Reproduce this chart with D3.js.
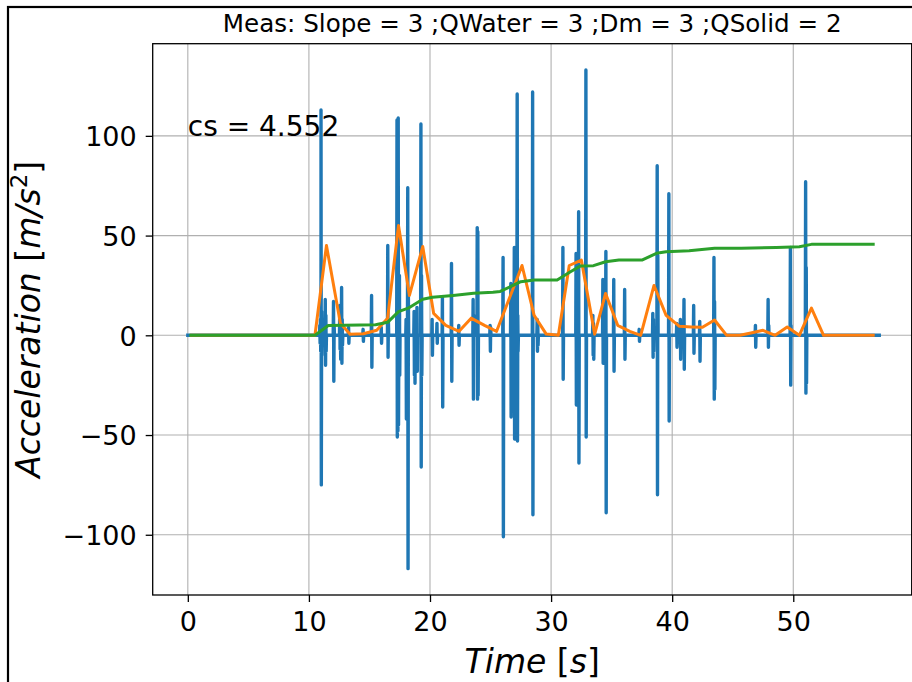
<!DOCTYPE html>
<html>
<head>
<meta charset="utf-8">
<script src="https://cdn.jsdelivr.net/npm/d3@7"></script>
<style>
  html, body { margin: 0; padding: 0; background: #fff; }
  svg { display: block; }
  text { font-family: "DejaVu Sans", sans-serif; fill: #000; }
</style>
</head>
<body>
<svg id="chart" width="912" height="682"></svg>
<script>
// ---------------- data ----------------
const titleText = "Meas: Slope = 3 ;QWater = 3 ;Dm = 3 ;QSolid = 2";
const annotationText = "cs = 4.552";
const annotationPos = [0, 100];

const xTicks = [0, 10, 20, 30, 40, 50];
const yTicks = [-100, -50, 0, 50, 100];

// raw acceleration: baseline start / end time, and bursts (time, successive sample values)
const signalStart = 0;
const signalEnd = 57.1;
const sampleStep = 0.025;
const burstTimes = [
  10.95, 11.05, 11.4, 12.07, 12.6, 12.75, 13.3, 14.5, 15.2, 16.0,
  16.55, 17.35, 17.5, 18.05, 18.2, 18.75, 18.95, 19.3, 20.2, 20.6,
  21.05, 21.8, 22.4, 23.6, 23.95, 25.0, 26.06, 26.7, 27.0, 27.25,
  28.5, 28.9, 31.0, 32.1, 32.3, 32.9, 33.5, 34.3, 34.55, 35.2,
  36.1, 37.3, 38.45, 38.8, 39.75, 40.4, 40.7, 41.0, 41.8, 42.3,
  43.5, 46.9, 47.96, 49.8, 51.07
];
const burstValues = [
  [5, -4, 8, -8], [113, -75, 12, -10], [18, -15, 10, -8], [17, -23, 5], [15, -7, 10, -12],
  [24, -14, 8, -5], [4, -4], [3, -3], [20, -16], [4, -4],
  [45, -11, 8], [108, -51, 60, -48, 109, -45], [30, -20], [8, -42], [74, -117, 20],
  [12, -20, 10, -24, 8], [14, -18], [106, -66, 30, -20], [8, -10], [6, -4],
  [19, -36], [36, -23], [5, -5], [18, -32, 10], [54, -32, 52, -30],
  [5, -8, 4], [39, -101], [26, -41], [44, -52, 10], [121, -53, 10, -8],
  [122, -90], [8, -8, 6, -5], [44, -22], [41, -35, 20], [62, -64],
  [133, -51], [10, -10, 6, -12], [28, -14], [42, -89], [28, -18],
  [23, -12], [3, -3], [11, -11, 8, -8], [85, -80, 40], [71, -43],
  [6, -6], [8, -12], [18, -17], [15, -9], [7, -13],
  [39, -32, 17, -27], [5, -6], [18, -6, 5], [44, -25, 5], [77, -29, 34, -24]
];

// peak envelope (orange)
const envTime = [0.3, 10.5, 11.45, 12.6, 13.4, 14.5, 15.6, 16.5, 17.4, 18.3,
  19.4, 20.3, 21.3, 22.4, 23.4, 24.5, 25.5, 27.6, 28.6, 29.6,
  30.6, 31.5, 32.5, 33.6, 34.5, 35.5, 36.5, 37.4, 38.5, 39.5,
  40.6, 41.6, 42.5, 43.5, 44.5, 45.6, 46.5, 47.5, 48.5, 49.5,
  50.5, 51.5, 52.5, 56.6];
const envValue = [0, 0, 45, 6, 0.5, 0.8, 2.5, 8.6, 55, 20,
  44.5, 11, 5, 2, 8.6, 5, 2, 35, 10, 0.6,
  0, 35, 37.7, 0.6, 21, 5, 2, 0, 25, 10,
  4.5, 4.2, 4, 7.7, 0, 0, 1.2, 2.5, 0, 4.2,
  0, 13.6, 0, 0];

// cumulative (green)
const cumTime = [0.25, 10.5, 11.6, 15.5, 16.5, 17.4, 18.2, 19.4, 20.2, 21.9,
  23.6, 25.2, 25.8, 27.5, 28.6, 30.5, 31.6, 32.4, 33.5, 34.5,
  35.6, 37.5, 38.7, 39.5, 41.4, 43.5, 45.7, 48.6, 50.5, 51.5, 56.6];
const cumValue = [0, 0, 4.9, 5.3, 6.5, 11.9, 13.6, 18.1, 19.1, 20,
  21.1, 21.6, 22, 26.9, 27.7, 27.7, 31.9, 34.7, 34.9, 36.9,
  37.7, 37.7, 41.1, 41.9, 42.4, 43.6, 43.6, 44, 44.4, 45.6, 45.6];

// ---------------- build series ----------------
const rawSeries = [[signalStart, 0]];
burstTimes.forEach((t, i) => {
  const vals = burstValues[i];
  const t0 = t - sampleStep * (vals.length / 2);
  rawSeries.push([t0 - sampleStep, 0]);
  vals.forEach((v, k) => rawSeries.push([t0 + k * sampleStep, v]));
  rawSeries.push([t0 + vals.length * sampleStep, 0]);
});
rawSeries.push([signalEnd, 0]);
rawSeries.sort((a, b) => a[0] - b[0]);
const envSeries = envTime.map((t, i) => [t, envValue[i]]);
const cumSeries = cumTime.map((t, i) => [t, cumValue[i]]);

// ---------------- layout ----------------
const svg = d3.select("#chart");
const plot = { left: 152.7, right: 911.7, top: 43.7, bottom: 595 };

const x = d3.scaleLinear().domain([-2.9, 59.78]).range([plot.left, plot.right]);
const y = d3.scaleLinear().domain([-130.2, 146.2]).range([plot.bottom, plot.top]);

svg.append("rect").attr("width", 912).attr("height", 682).attr("fill", "#fff");

// figure border
svg.append("rect")
  .attr("x", 8).attr("y", 7).attr("width", 1000).attr("height", 1000)
  .attr("fill", "none").attr("stroke", "#000").attr("stroke-width", 2.2);

// grid
const grid = svg.append("g").attr("stroke", "#b0b0b0").attr("stroke-width", 1.1);
xTicks.forEach(t => grid.append("line")
  .attr("x1", x(t)).attr("x2", x(t)).attr("y1", plot.top).attr("y2", plot.bottom));
yTicks.forEach(t => grid.append("line")
  .attr("x1", plot.left).attr("x2", plot.right).attr("y1", y(t)).attr("y2", y(t)));

// clip
svg.append("clipPath").attr("id", "clip").append("rect")
  .attr("x", plot.left).attr("y", plot.top)
  .attr("width", plot.right - plot.left).attr("height", plot.bottom - plot.top);

const line = d3.line().x(d => x(d[0])).y(d => y(d[1]));
const lines = svg.append("g").attr("clip-path", "url(#clip)")
  .attr("fill", "none").attr("stroke-linejoin", "round").attr("stroke-linecap", "square");
lines.append("path").datum(rawSeries).attr("d", line)
  .attr("stroke", "#1f77b4").attr("stroke-width", 3.4);
lines.append("path").datum(envSeries).attr("d", line)
  .attr("stroke", "#ff7f0e").attr("stroke-width", 3);
lines.append("path").datum(cumSeries).attr("d", line)
  .attr("stroke", "#2ca02c").attr("stroke-width", 3);

// axes
const xAxis = d3.axisBottom(x).tickValues(xTicks).tickSize(7).tickPadding(6)
  .tickFormat(d => String(d).replace("-", "\u2212"));
const yAxis = d3.axisLeft(y).tickValues(yTicks).tickSize(7).tickPadding(9)
  .tickFormat(d => String(d).replace("-", "\u2212"));

const gx = svg.append("g").attr("transform", `translate(0,${plot.bottom})`).call(xAxis);
const gy = svg.append("g").attr("transform", `translate(${plot.left},0)`).call(yAxis);
[gx, gy].forEach(g => {
  g.select(".domain").remove();
  g.selectAll(".tick line").attr("stroke", "#000").attr("stroke-width", 1.3);
  g.selectAll(".tick text").attr("font-family", "DejaVu Sans").attr("font-size", 27).attr("fill", "#000");
});
gx.selectAll(".tick text").attr("dy", null).attr("y", 36);
gy.selectAll(".tick text").attr("dy", "0.36em");

// spines
svg.append("rect")
  .attr("x", plot.left).attr("y", plot.top)
  .attr("width", plot.right - plot.left).attr("height", plot.bottom - plot.top)
  .attr("fill", "none").attr("stroke", "#000").attr("stroke-width", 1.3);

// title
svg.append("text")
  .attr("x", (plot.left + plot.right) / 2).attr("y", 32)
  .attr("text-anchor", "middle").attr("font-size", 24.6)
  .text(titleText);

// annotation
svg.append("text")
  .attr("x", x(annotationPos[0])).attr("y", y(annotationPos[1]))
  .attr("font-size", 28)
  .text(annotationText);

// x label
const xl = svg.append("text")
  .attr("x", (plot.left + plot.right) / 2).attr("y", 673)
  .attr("text-anchor", "middle").attr("font-size", 33);
xl.append("tspan").attr("font-style", "italic").text("Time");
xl.append("tspan").text(" [");
xl.append("tspan").attr("font-style", "italic").text("s");
xl.append("tspan").text("]");

// y label
const yl = svg.append("text")
  .attr("transform", `translate(40,${(plot.top + plot.bottom) / 2}) rotate(-90)`)
  .attr("text-anchor", "middle").attr("font-size", 33);
yl.append("tspan").attr("font-style", "italic").text("Acceleration");
yl.append("tspan").text(" [");
yl.append("tspan").attr("font-style", "italic").text("m/s");
yl.append("tspan").attr("font-size", 23).attr("dy", -13).text("2");
yl.append("tspan").attr("dy", 13).text("]");
</script>
</body>
</html>
